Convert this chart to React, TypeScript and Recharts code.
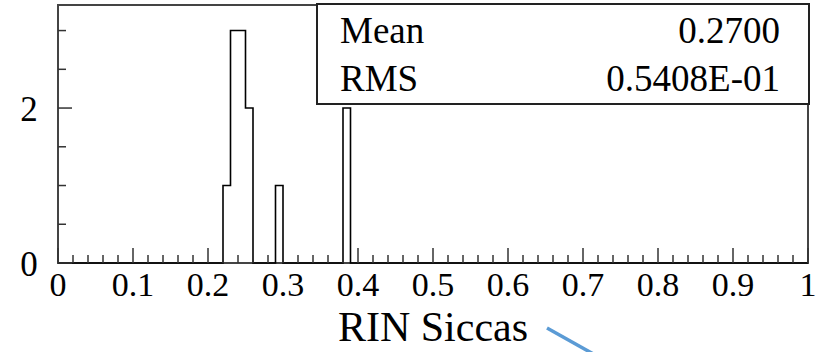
import {
  ComposedChart,
  Line,
  ReferenceArea,
  ReferenceLine,
  XAxis,
  YAxis,
} from 'recharts'

// histogram contents: 100 bins of width 0.01 on [0, 1], only filled bins listed
const binWidth = 0.01
const nBins = 100
const filledBinLows = [0.22, 0.23, 0.24, 0.25, 0.29, 0.38]
const filledCounts = [1, 3, 3, 2, 1, 2]

const xMajorTicks = [0, 0.1, 0.2, 0.3, 0.4, 0.5, 0.6, 0.7, 0.8, 0.9, 1]
const xMajorLabels = ['0', '0.1', '0.2', '0.3', '0.4', '0.5', '0.6', '0.7', '0.8', '0.9', '1']
const yTicks = [0, 0.5, 1, 1.5, 2, 2.5, 3]
const yLabelled = [0, 2]
const yMax = 3.33

const statNames = ['Mean', 'RMS']
const statValues = ['0.2700', '0.5408E-01']

const FONT = '"Liberation Serif", "DejaVu Serif", serif'

// step outline points: one per bin low edge plus the closing edge at x=1
const counts = Array.from({ length: nBins }, (_, i) => {
  const idx = filledBinLows.findIndex((lo) => Math.round(lo / binWidth) === i)
  return idx >= 0 ? filledCounts[idx] : 0
})
const histData = [
  ...counts.map((c, i) => ({ x: +(i * binWidth).toFixed(2), n: c })),
  { x: 1, n: 0 },
]

// 5 subdivisions per major division
const xTicks = xMajorTicks.slice(0, -1).flatMap((t) =>
  [0, 1, 2, 3, 4].map((k) => +(t + k * 0.02).toFixed(2)),
).concat([1])

const isXMajor = (v: number) => xMajorTicks.some((t) => Math.abs(t - v) < 1e-6)

const XTick = (props: any) => {
  const { x, y, payload } = props
  const v = payload.value as number
  const major = isXMajor(v)
  const label = xMajorLabels[xMajorTicks.findIndex((t) => Math.abs(t - v) < 1e-6)]
  return (
    <g>
      <line x1={x} x2={x} y1={y} y2={y - (major ? 15 : 8)} stroke="#333" strokeWidth={1.5} />
      {major && (
        <text x={x} y={y + 33} textAnchor="middle" fontFamily={FONT} fontSize={34} fill="#000">
          {label}
        </text>
      )}
    </g>
  )
}

const YTick = (props: any) => {
  const { x, y, payload } = props
  const v = payload.value as number
  const major = yLabelled.includes(v)
  return (
    <g>
      <line x1={x} x2={x + (major ? 14 : 8)} y1={y} y2={y} stroke="#333" strokeWidth={1.5} />
      {major && (
        <text x={29} y={y + 13} textAnchor="middle" fontFamily={FONT} fontSize={35} fill="#000">
          {v}
        </text>
      )}
    </g>
  )
}

export default function App() {
  return (
    <div style={{ position: 'absolute', left: 0, top: 0, width: 816, height: 352, background: '#fff' }}>
      <ComposedChart
        width={816}
        height={352}
        data={histData}
        margin={{ top: 5, right: 8, bottom: 0, left: 0 }}
      >
        <XAxis
          dataKey="x"
          type="number"
          domain={[0, 1]}
          ticks={xTicks}
          interval={0}
          tick={<XTick />}
          tickLine={false}
          tickSize={0}
          tickMargin={0}
          axisLine={false}
          height={89}
          label={({ viewBox }: any) => (
            <text
              x={viewBox.x + viewBox.width / 2}
              y={viewBox.y + 78}
              textAnchor="middle"
              fontFamily={FONT}
              fontSize={42}
              fill="#000"
            >
              RIN Siccas
            </text>
          )}
        />
        <YAxis
          type="number"
          domain={[0, yMax]}
          ticks={yTicks}
          interval={0}
          tick={<YTick />}
          tickLine={false}
          tickSize={0}
          tickMargin={0}
          axisLine={false}
          width={58}
        />
        <ReferenceArea
          x1={0}
          x2={1}
          y1={0}
          y2={yMax}
          fill="none"
          fillOpacity={0}
          stroke="#444"
          strokeWidth={2}
        />
        <Line
          dataKey="n"
          type="stepAfter"
          stroke="#000"
          strokeWidth={1.6}
          dot={false}
          activeDot={false}
          isAnimationActive={false}
        />
        {/* pointer annotation running off below the axis title */}
        <ReferenceLine
          segment={[
            { x: 0.652, y: -0.84 },
            { x: 0.75, y: -1.37 },
          ]}
          stroke="#5b9bd5"
          strokeWidth={3.5}
          ifOverflow="visible"
        />
      </ComposedChart>
      <svg
        width={816}
        height={352}
        style={{ position: 'absolute', left: 0, top: 0, pointerEvents: 'none' }}
      >
        <rect x={317} y={4} width={492} height={100} fill="#fff" stroke="#222" strokeWidth={2} />
        {statNames.map((name, i) => (
          <g key={name} fontFamily={FONT} fontSize={37} fill="#000">
            <text x={340} y={43 + i * 48}>{name}</text>
            <text x={780} y={43 + i * 48} textAnchor="end">{statValues[i]}</text>
          </g>
        ))}
      </svg>
    </div>
  )
}
